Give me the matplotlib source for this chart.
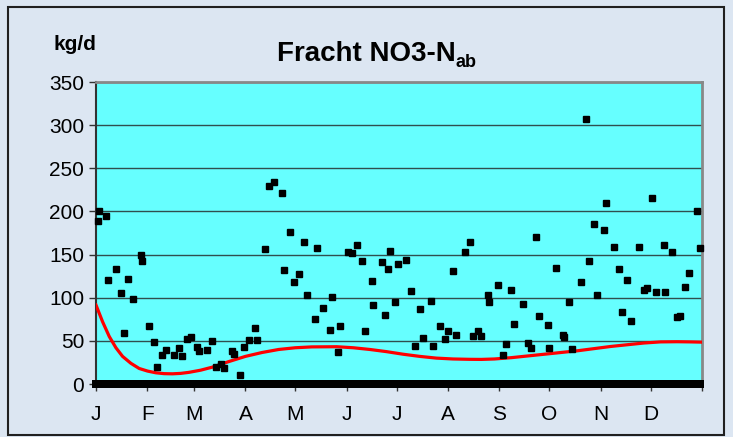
import numpy as np
import matplotlib.pyplot as plt
from matplotlib.patches import Rectangle

plt.rcParams['font.family'] = ['Liberation Sans', 'DejaVu Sans']

# Messtage (Tag im Jahr) und Fracht NO3-N ab in kg/d
days = [1, 2, 6, 7, 12, 15, 17, 19, 22, 27, 28, 32, 35, 37, 40, 42, 47, 50, 52, 55,
        57, 61, 62, 67, 70, 72, 75, 77, 82, 83, 87, 89, 92, 96, 97, 102, 104, 107, 112, 113,
        117, 119, 122, 125, 127, 132, 133, 137, 141, 142, 146, 147, 152, 154, 157, 160, 162, 166, 167, 172,
        174, 176, 177, 180, 182, 187, 190, 192, 195, 197, 202, 203, 207, 210, 212, 215, 217, 222, 225, 227,
        230, 232, 236, 237, 242, 245, 247, 250, 252, 257, 260, 262, 265, 267, 272, 273, 277, 281, 282, 285,
        287, 292, 295, 297, 300, 302, 306, 307, 312, 315, 317, 320, 322, 327, 330, 332, 335, 337, 342, 343,
        347, 350, 352, 355, 357, 362, 364]
values = [189, 201, 195, 120, 133, 105, 59, 122, 98, 149, 143, 67, 49, 20, 34, 39, 34, 42, 32, 52,
          55, 43, 38, 39, 50, 20, 23, 18, 38, 35, 10, 43, 51, 65, 51, 157, 230, 234, 221, 132,
          176, 118, 127, 164, 103, 75, 158, 88, 63, 101, 37, 67, 153, 152, 161, 143, 61, 119, 92, 141,
          80, 133, 154, 95, 139, 144, 108, 44, 87, 53, 96, 44, 67, 52, 61, 131, 57, 153, 164, 56,
          61, 56, 103, 95, 115, 34, 46, 109, 70, 93, 47, 42, 170, 79, 68, 42, 134, 57, 55, 95,
          40, 118, 307, 143, 185, 103, 178, 210, 159, 133, 84, 121, 73, 159, 109, 111, 215, 107, 161, 107,
          153, 78, 79, 112, 129, 201, 158]

# Trendlinie
trend_days = [0, 4, 8, 12, 16, 21, 26, 31, 36, 41, 46, 51, 56, 63, 70, 80, 90, 100, 110, 120,
              130, 145, 155, 165, 175, 185, 195, 205, 215, 225, 232, 240, 250, 260, 270, 280,
              290, 300, 310, 320, 330, 340, 350, 358, 365]
trend_vals = [91.5, 72, 55, 42, 32, 24, 18, 15, 13, 12, 11.8, 12.3, 13.5, 16, 19.5, 26, 32, 36.5, 40, 42,
              43, 43.2, 42, 40, 37.5, 34.5, 32, 30, 29, 28.6, 28.5, 29, 30.5, 32.5, 34.5, 36.5,
              38.5, 41, 43.5, 45.5, 47.5, 48.8, 49, 48.8, 48.5]

month_starts = [0, 31, 59, 90, 120, 151, 181, 212, 243, 273, 304, 334, 365]
month_labels = ['J', 'F', 'M', 'A', 'M', 'J', 'J', 'A', 'S', 'O', 'N', 'D']

all_days = np.arange(0, 365)

fig = plt.figure(figsize=(7.33, 4.37), dpi=100, facecolor='#DCE6F2')
fig.patches.append(Rectangle((8 / 733, 2 / 437), 716 / 733, 428 / 437, transform=fig.transFigure,
                             fill=False, edgecolor='#202020', lw=1.5))

ax = fig.add_axes([96 / 733, 1 - 384 / 437, 606 / 733, 302 / 437])
ax.set_facecolor('#66FFFF')
ax.set_xlim(0, 365)
ax.set_ylim(0, 350)

ax.set_yticks(np.arange(0, 351, 50))
ax.yaxis.grid(True, color='#2F4F4F', lw=1)
ax.set_axisbelow(True)

ax.set_xticks(month_starts)
ax.set_xticklabels(month_labels + [''])
ax.tick_params(axis='both', direction='out', length=5, width=1, colors='#333333',
               labelsize=15, labelcolor='black')
ax.tick_params(axis='x', pad=10)

for s in ['top', 'right']:
    ax.spines[s].set_color('#888888')
    ax.spines[s].set_linewidth(2)
ax.spines['left'].set_color('#333333')
ax.spines['left'].set_linewidth(1.5)
ax.spines['bottom'].set_color('black')

ax.plot(trend_days, trend_vals, color='#FF0000', lw=2.3, zorder=3)
# Tage ohne Messung stehen als 0 im Diagramm
ax.plot(all_days, np.zeros(len(all_days)), 's', color='black', ms=5.5, mew=0, clip_on=False, zorder=4)
ax.plot(days, values, 's', color='black', ms=5, clip_on=False, zorder=4)

t = fig.text(277 / 733, 1 - 61 / 437, 'Fracht NO3-N', fontsize=20, fontweight='bold',
             ha='left', va='baseline')
ax.annotate('ab', xy=(1, 0), xycoords=t, xytext=(0, -3), textcoords='offset points',
            fontsize=13, fontweight='bold', ha='left', va='bottom')
fig.text(75 / 733, 1 - 45 / 437, 'kg/d', fontsize=15, fontweight='bold', ha='center', va='center')

fig.savefig('out.png', dpi=100, facecolor=fig.get_facecolor())
